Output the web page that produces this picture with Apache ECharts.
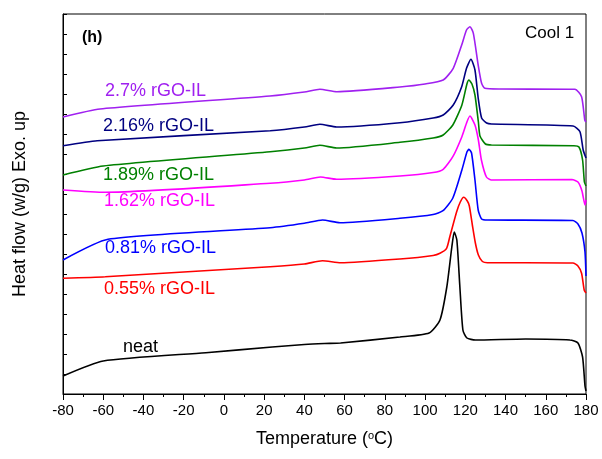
<!DOCTYPE html>
<html>
<head>
<meta charset="utf-8">
<script src="https://cdn.jsdelivr.net/npm/echarts@6/dist/echarts.min.js"></script>
<style>
html, body { margin: 0; padding: 0; background: #fff; }
#chart { width: 602px; height: 459px; }
</style>
</head>
<body>
<div id="chart"></div>
<script>
// DSC cooling curves, [temperature, heat flow (a.u., shifted)]
const neat = [[-80,18],[-60,33],[-9,41.3],[24,47],[40,49.5],[50,50.5],[58,51],[87.5,57],[102,61],[107.4,74],[110.8,107],[113.3,147],[114.5,162],[115.8,154],[117.3,107],[118.8,64],[120.8,56],[125,54],[150,55],[172,54],[176,51],[178.3,37],[179.5,8],[180,3]]
const rgo055 = [[-80,115.7],[-59,117.3],[23,127.3],[40,130],[49,133.3],[58,131.3],[87.5,135],[104,138.5],[107.4,140.7],[110.7,145.7],[112.3,157.3],[115.7,182.3],[117.5,192],[119.2,196.7],[121,193],[122,188],[123.5,169],[125,151],[126.5,139],[128.5,132.5],[131,131.3],[150,131.3],[173.5,131],[176,128],[177.8,120.7],[179.1,104],[180,101]]
const rgo081 = [[-80,134],[-57.6,154.7],[23,166.3],[40,170.7],[49,174],[57.7,171.3],[87.5,175.7],[104,179.5],[108.9,183.3],[113.8,196],[118.3,224],[120.8,242],[121.8,244.7],[123.1,241],[124.8,214],[126.4,184],[128.1,175],[131,174],[173.5,173.5],[176,170],[178,161],[179.5,142],[180,118]]
const rgo162 = [[-80,204],[-59,201.7],[23,210.7],[40,214],[48,217],[56,214.7],[87.5,218],[104,221.5],[109,224.7],[113.8,237.3],[118.3,257.3],[120.8,272],[122.3,278],[124.8,269],[126.5,254],[128,234],[130.5,217],[133,214],[173,214.5],[176,212],[178,203],[179.5,189],[180,194]]
const rgo189 = [[-80,219],[-60,228],[23,242.3],[40,246],[47.7,248.7],[56,246],[87.5,251.7],[104,256],[109,259],[113.8,269],[118.3,289],[120.8,310],[121.8,314],[123.3,310],[124.8,299],[126.5,272],[127.3,258],[130,250],[133,249],[174,248.3],[176.5,247],[178.3,234],[179.2,212],[180,208]]
const rgo216 = [[-80,248.3],[-63,253.3],[23,263.3],[40,267],[47.7,269.7],[56,267],[87.5,271.3],[104,276],[109,279],[114,289],[118.2,307.3],[120.6,325.7],[122.8,334.7],[124.8,324],[126.4,296],[128.1,276],[130.6,271],[133,270],[173.6,268],[177,262.3],[178.6,244],[180,236]]
const rgo27 = [[-80,277],[-61.6,285],[22.9,298],[40,302],[47.7,304.7],[56.2,302.3],[87.5,307],[100,310],[109,314],[114,325.7],[118.2,349],[120.6,364],[122.3,367.3],[124,360.7],[126.4,329],[128.1,310.7],[129.7,305.7],[137,305],[174.5,304.7],[177.8,297.3],[179.4,274],[180,272]]

const seriesData = [neat, rgo055, rgo081, rgo162, rgo189, rgo216, rgo27]
const seriesNames = ['neat', '0.55% rGO-IL', '0.81% rGO-IL', '1.62% rGO-IL', '1.89% rGO-IL', '2.16% rGO-IL', '2.7% rGO-IL']
const colors = ['#000000', '#ff0000', '#0000ff', '#ff00ff', '#008000', '#000080', '#a020f0']
// label anchor (left, middle) in px
const labelPos = [[123, 347], [104, 289], [105, 248], [104, 201], [103, 175], [103, 126], [105, 91]]

const font = 'Arial, "Liberation Sans", sans-serif'
const chart = echarts.init(document.getElementById('chart'))

const graphics = seriesNames.map((name, i) => ({
    type: 'text',
    x: labelPos[i][0],
    y: labelPos[i][1],
    style: {
        text: name,
        fill: colors[i],
        font: '18px ' + font,
        verticalAlign: 'middle'
    }
}))
graphics.push({
    type: 'text', x: 82, y: 38,
    style: { text: '(h)', fill: '#000', font: 'bold 16px ' + font, verticalAlign: 'middle' }
})
graphics.push({
    type: 'text', x: 525, y: 33,
    style: { text: 'Cool 1', fill: '#000', font: '17px ' + font, verticalAlign: 'middle' }
})

chart.setOption({
    animation: false,
    grid: {
        left: 63,
        right: 16,
        top: 14,
        bottom: 65,
        show: true,
        borderColor: '#000',
        borderWidth: 1
    },
    xAxis: {
        type: 'value',
        min: -80,
        max: 180,
        interval: 20,
        name: '{a|Temperature (}{s|o}{a|C)}',
        nameLocation: 'middle',
        nameGap: 36,
        nameTextStyle: {
            rich: {
                a: { fontSize: 18, fontFamily: font, color: '#000' },
                s: { fontSize: 11, fontFamily: font, color: '#000', verticalAlign: 'top' }
            }
        },
        axisLine: { onZero: false, lineStyle: { color: '#000', width: 1 } },
        axisTick: { length: 6, lineStyle: { color: '#000' } },
        minorTick: { show: true, splitNumber: 2, length: 3, lineStyle: { color: '#000' } },
        axisLabel: { fontSize: 15, fontFamily: font, color: '#000', margin: 9 },
        splitLine: { show: false }
    },
    yAxis: {
        type: 'value',
        min: 0,
        max: 380,
        interval: 20,
        name: 'Heat flow (w/g) Exo. up',
        nameLocation: 'middle',
        nameGap: 34,
        nameTextStyle: { fontSize: 18, fontFamily: font, color: '#000' },
        axisLine: { show: true, onZero: false, lineStyle: { color: '#000', width: 1 } },
        axisTick: { show: true, inside: true, length: 4, lineStyle: { color: '#000' } },
        axisLabel: { show: false },
        splitLine: { show: false }
    },
    series: seriesData.map((d, i) => ({
        type: 'line',
        name: seriesNames[i],
        data: d,
        symbol: 'none',
        smooth: 0.2,
        lineStyle: { color: colors[i], width: 1.6 }
    })),
    graphic: graphics
})
</script>
</body>
</html>
